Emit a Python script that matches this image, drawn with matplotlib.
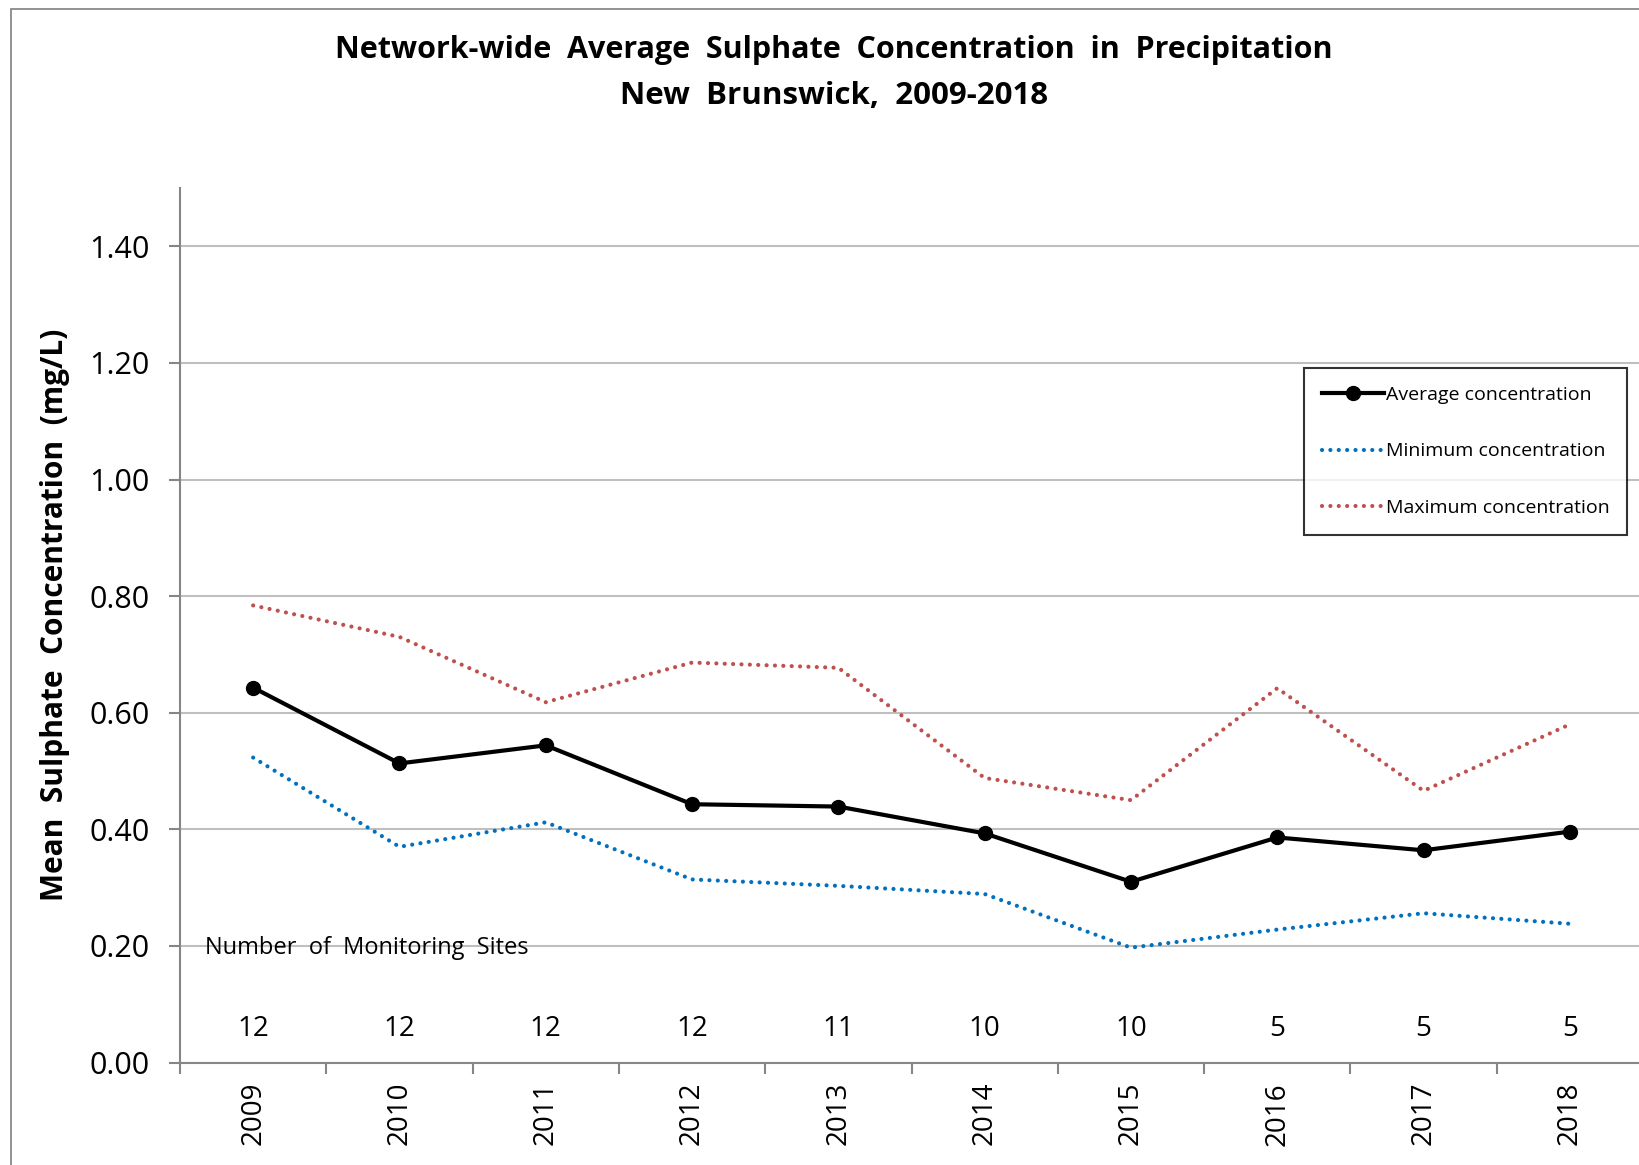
import matplotlib.pyplot as plt
from matplotlib.patches import Rectangle

plt.rcParams['font.family'] = ['Open Sans', 'DejaVu Sans']

# data
years = ['2009', '2010', '2011', '2012', '2013', '2014', '2015', '2016', '2017', '2018']
avg_conc = [0.643, 0.513, 0.544, 0.443, 0.439, 0.393, 0.310, 0.386, 0.364, 0.396]
min_conc = [0.523, 0.370, 0.412, 0.314, 0.303, 0.289, 0.197, 0.228, 0.256, 0.238]
max_conc = [0.784, 0.730, 0.618, 0.686, 0.677, 0.488, 0.450, 0.642, 0.466, 0.580]
n_sites = ['12', '12', '12', '12', '11', '10', '10', '5', '5', '5']

W, H = 1640, 1165
fig = plt.figure(figsize=(W / 100, H / 100), dpi=100)

# outer chart frame (cut off on the right and bottom like the original)
fig.patches.append(Rectangle((11 / W, -0.1), 1.2, 1 - 9 / H + 0.1, transform=fig.transFigure,
                             fill=False, edgecolor='#7f7f7f', linewidth=1.2))

left, right, top, bottom = 180, 1643, 188, 1062.5
ax = fig.add_axes([left / W, 1 - bottom / H, (right - left) / W, (bottom - top) / H])

x = list(range(len(years)))
ax.plot(x, max_conc, color='#C0504D', linewidth=3, linestyle=(0, (0.01, 2.0)),
        dash_capstyle='round', label='Maximum concentration', zorder=3)
ax.plot(x, min_conc, color='#0070C0', linewidth=3, linestyle=(0, (0.01, 2.0)),
        dash_capstyle='round', label='Minimum concentration', zorder=3)
ax.plot(x, avg_conc, color='black', linewidth=3, marker='o', markersize=10,
        label='Average concentration', zorder=4)

ax.set_xlim(-0.5, len(years) - 0.5)
ax.set_ylim(0, 1.5)
ax.set_yticks([0, 0.2, 0.4, 0.6, 0.8, 1.0, 1.2, 1.4])
ax.set_yticklabels(['%.2f' % v for v in ax.get_yticks()], fontsize=22)
ax.yaxis.grid(True, color='#BFBFBF', linewidth=1.5)
ax.set_axisbelow(True)

# category boundaries as major ticks, year labels on minor ticks
ax.set_xticks([i - 0.5 for i in range(len(years) + 1)])
ax.set_xticklabels([])
ax.set_xticks(x, minor=True)
ax.set_xticklabels(years, minor=True, rotation=90, fontsize=20)
ax.tick_params(axis='x', which='minor', length=0, pad=14)
ax.tick_params(axis='x', which='major', length=8, width=1.5, color='#868686')
ax.tick_params(axis='y', length=8, width=1.5, color='#868686', pad=14)

for s in ['top', 'right']:
    ax.spines[s].set_visible(False)
for s in ['left', 'bottom']:
    ax.spines[s].set_color('#868686')
    ax.spines[s].set_linewidth(1.5)

# number of monitoring sites under each year
for i, n in enumerate(n_sites):
    ax.text(i, 0.058, n, ha='center', va='center', fontsize=20)
ax.text(-0.33, 0.196, 'Number  of  Monitoring  Sites', ha='left', va='center', fontsize=17)

ax.set_ylabel('Mean  Sulphate  Concentration  (mg/L)', fontsize=21.5, fontweight='bold', labelpad=14)
ax.yaxis.label.set_y(0.512)

fig.text(834 / W, 1 - 50 / H, 'Network-wide  Average  Sulphate  Concentration  in  Precipitation',
         ha='center', va='center', fontsize=22, fontweight='bold')
fig.text(834 / W, 1 - 96 / H, 'New  Brunswick,  2009-2018',
         ha='center', va='center', fontsize=22.5, fontweight='bold')

handles, labels = ax.get_legend_handles_labels()
order = [2, 1, 0]
leg = ax.legend([handles[i] for i in order], [labels[i] for i in order],
                loc='upper left', bbox_to_anchor=((1304 - left) / (right - left), (bottom - 368) / (bottom - top)),
                fontsize=14, frameon=True, fancybox=False, edgecolor='black', handlelength=3.2,
                handletextpad=0.1, labelspacing=2.0, borderpad=0.9, borderaxespad=0)
leg.get_frame().set_linewidth(1.5)

plt.savefig('out.png', dpi=100)
